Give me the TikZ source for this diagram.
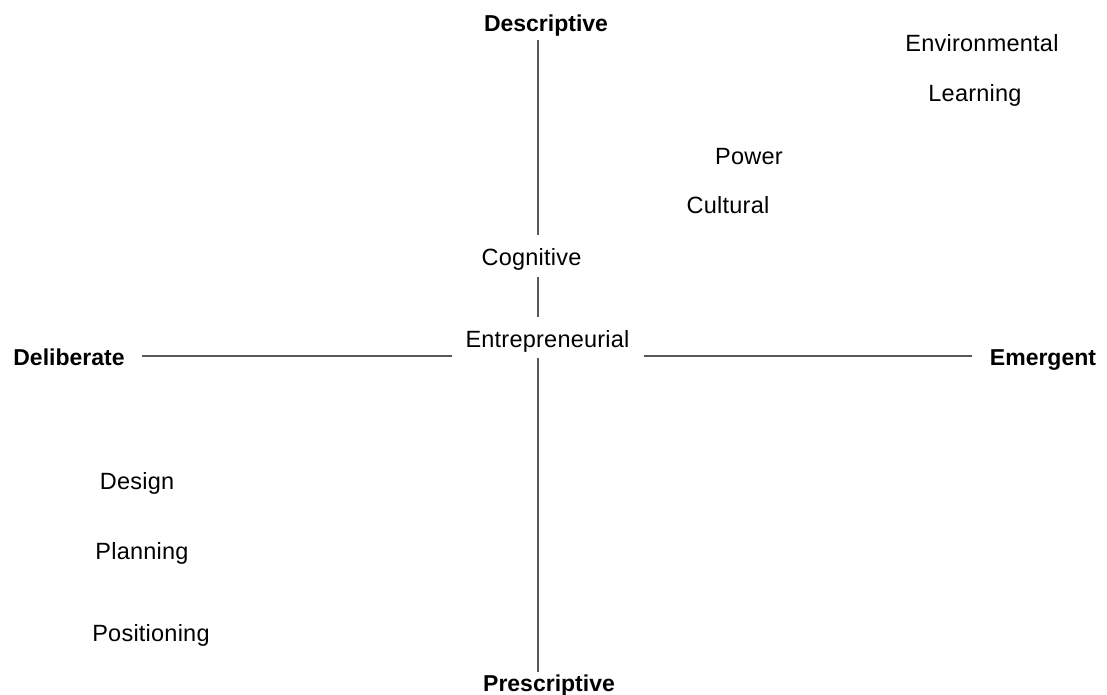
\documentclass[tikz,border=0pt]{standalone}
\usepackage{fontspec}
\setmainfont{Liberation Sans}
\newfontfamily\spacedsans[LetterSpace=1]{Liberation Sans}
\begin{document}
\begin{tikzpicture}[x=1pt,y=-1pt,
  lbl/.style={inner sep=0pt, text height=16.8pt, text depth=0pt,
    font=\spacedsans\fontsize{23.5}{28}\selectfont, text=black},
  pole/.style={inner sep=0pt, text height=16.5pt, text depth=0pt,
    font=\bfseries\fontsize{23}{28}\selectfont, text=black},
  axis/.style={draw=black!65, line width=1.3pt}]
\useasboundingbox (0,0) rectangle (1107,695);

% axis end labels
\node[pole] (desc) at (546,23.5) {Descriptive};
\node[pole] (pres) at (549,683) {Prescriptive};
\node[pole] (delib) at (69,357) {Deliberate};
\node[pole] (emerg) at (1043,357) {Emergent};

% schools along the axes
\node[lbl] (cog) at (531.5,257) {Cognitive};
\node[lbl] (entre) at (547.5,339) {Entrepreneurial};

% schools in the quadrants
\node[lbl] (env) at (982,43) {Environmental};
\node[lbl] (learn) at (975,93) {Learning};
\node[lbl] (power) at (749,156) {Power};
\node[lbl] (cult) at (728,205) {Cultural};
\node[lbl] (design) at (137,481) {Design};
\node[lbl] (plan) at (142,551) {Planning};
\node[lbl] (posit) at (151,633) {Positioning};

% axis end points
\coordinate (vtop) at (538,40);
\coordinate (vcogA) at (538,235);
\coordinate (vcogB) at (538,277);
\coordinate (ventA) at (538,317);
\coordinate (ventB) at (538,358);
\coordinate (vbot) at (538,672);
\coordinate (hleft) at (142,356);
\coordinate (hentA) at (452,356);
\coordinate (hentB) at (644,356);
\coordinate (hright) at (972,356);

% vertical axis: Descriptive -- Prescriptive
\draw[axis] (vtop) -- (vcogA);
\draw[axis] (vcogB) -- (ventA);
\draw[axis] (ventB) -- (vbot);
% horizontal axis: Deliberate -- Emergent
\draw[axis] (hleft) -- (hentA);
\draw[axis] (hentB) -- (hright);
\end{tikzpicture}
\end{document}
